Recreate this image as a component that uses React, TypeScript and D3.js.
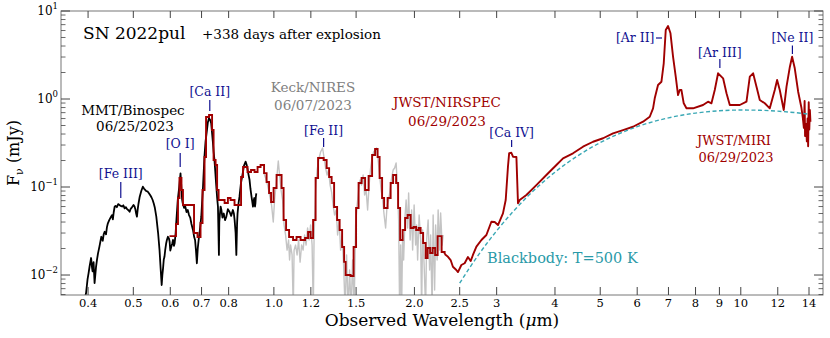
import React from "react";
import * as d3 from "d3";

// ---- data (wavelength in μm, flux in mJy) ----
const mmtSpec: [number, number][] = [[0.392,0.005],[0.396,0.0062],[0.399,0.0090],[0.401,0.0105],[0.403,0.0125],[0.406,0.0156],[0.408,0.0120],[0.409,0.0110],[0.411,0.0140],[0.413,0.0081],[0.416,0.0124],[0.418,0.0150],[0.420,0.0175],[0.423,0.0210],[0.427,0.0272],[0.430,0.0245],[0.432,0.0290],[0.434,0.0310],[0.437,0.0290],[0.439,0.0350],[0.441,0.0387],[0.444,0.0420],[0.448,0.0460],[0.450,0.0480],[0.452,0.0430],[0.454,0.0520],[0.456,0.0597],[0.458,0.0610],[0.461,0.0590],[0.464,0.0640],[0.467,0.0625],[0.470,0.0610],[0.473,0.0600],[0.476,0.0620],[0.479,0.0573],[0.482,0.0590],[0.485,0.0560],[0.488,0.0545],[0.491,0.0524],[0.493,0.0560],[0.4955,0.0580],[0.498,0.0600],[0.5005,0.0625],[0.503,0.0600],[0.505,0.0560],[0.507,0.0500],[0.509,0.0460],[0.511,0.0560],[0.513,0.0650],[0.516,0.0776],[0.520,0.0900],[0.524,0.1008],[0.527,0.0960],[0.530,0.0930],[0.533,0.0900],[0.537,0.0885],[0.540,0.0850],[0.544,0.0800],[0.547,0.0760],[0.550,0.0712],[0.553,0.0650],[0.556,0.0580],[0.560,0.0460],[0.565,0.0300],[0.569,0.0192],[0.572,0.0120],[0.575,0.0077],[0.577,0.0100],[0.579,0.0120],[0.581,0.0150],[0.583,0.0161],[0.585,0.0190],[0.588,0.0230],[0.590,0.0250],[0.593,0.0272],[0.596,0.0260],[0.598,0.0240],[0.600,0.0190],[0.603,0.0210],[0.606,0.0230],[0.608,0.0250],[0.611,0.0215],[0.613,0.0229],[0.616,0.0300],[0.618,0.0400],[0.6225,0.0712],[0.627,0.1000],[0.631,0.143],[0.634,0.0950],[0.636,0.0720],[0.638,0.0653],[0.642,0.0580],[0.646,0.0600],[0.650,0.0520],[0.654,0.0548],[0.658,0.0480],[0.662,0.0450],[0.666,0.0380],[0.671,0.0325],[0.675,0.0270],[0.678,0.0250],[0.681,0.0190],[0.684,0.0136],[0.687,0.0200],[0.690,0.0250],[0.694,0.0320],[0.699,0.0460],[0.705,0.1000],[0.710,0.221],[0.714,0.330],[0.718,0.420],[0.722,0.540],[0.726,0.604],[0.730,0.580],[0.734,0.530],[0.737,0.420],[0.740,0.330],[0.743,0.250],[0.746,0.203],[0.749,0.150],[0.752,0.110],[0.756,0.0750],[0.759,0.0597],[0.7626,0.0169],[0.764,0.0400],[0.766,0.0480],[0.769,0.0600],[0.772,0.0548],[0.776,0.0450],[0.781,0.0500],[0.786,0.0420],[0.791,0.0460],[0.797,0.0560],[0.804,0.0520],[0.810,0.0470],[0.817,0.0548],[0.821,0.0500],[0.824,0.0420],[0.828,0.0300],[0.831,0.0169],[0.834,0.0380],[0.836,0.0500],[0.840,0.0650],[0.844,0.0776],[0.850,0.1100],[0.857,0.140],[0.863,0.175],[0.870,0.194],[0.874,0.180],[0.878,0.160],[0.882,0.140],[0.887,0.120],[0.891,0.095],[0.895,0.080],[0.899,0.068],[0.902,0.0597],[0.905,0.0700],[0.908,0.0750],[0.911,0.0600],[0.913,0.0650],[0.915,0.0780],[0.917,0.0848]];

const niresSpec: [number, number][] = [[0.9504,0.1481],[0.9599,0.1266],[0.9694,0.1054],[0.9790,0.0811],[0.9887,0.0624],[0.9970,0.0400],[1.0035,0.0712],[1.0134,0.1201],[1.0220,0.1975],[1.0285,0.1369],[1.0362,0.0924],[1.0439,0.0712],[1.0516,0.0370],[1.0594,0.0285],[1.0673,0.0192],[1.0752,0.0250],[1.0805,0.0148],[1.0859,0.0219],[1.0939,0.0169],[1.1004,0.004],[1.1048,0.0192],[1.1130,0.0219],[1.1213,0.0169],[1.1296,0.0250],[1.1380,0.0140],[1.1465,0.0219],[1.1550,0.0192],[1.1636,0.0285],[1.1722,0.0219],[1.1809,0.0342],[1.1897,0.0250],[1.1985,0.0370],[1.2074,0.0219],[1.2146,0.004],[1.2194,0.0285],[1.2285,0.0924],[1.2376,0.1560],[1.2468,0.2026],[1.2591,0.2498],[1.2716,0.2774],[1.2810,0.2136],[1.2905,0.1644],[1.3001,0.1369],[1.3098,0.1560],[1.3195,0.1054],[1.3293,0.0877],[1.3392,0.0624],[1.3491,0.0481],[1.3592,0.0548],[1.3693,0.0285],[1.3794,0.0422],[1.3897,0.0192],[1.4000,0.0285],[1.4104,0.0130],[1.4209,0.004],[1.4314,0.0169],[1.4421,0.004],[1.4528,0.0114],[1.4636,0.004],[1.4744,0.0148],[1.4854,0.004],[1.4964,0.0370],[1.5076,0.0624],[1.5188,0.0924],[1.5300,0.1201],[1.5414,0.1054],[1.5528,0.1369],[1.5644,0.0811],[1.5760,0.0924],[1.5877,0.0548],[1.5995,0.1054],[1.6113,0.1644],[1.6233,0.2136],[1.6354,0.2498],[1.6475,0.2633],[1.6598,0.2774],[1.6721,0.2026],[1.6845,0.1369],[1.6970,0.0924],[1.7096,0.0712],[1.7223,0.0481],[1.7351,0.0342],[1.7480,0.0624],[1.7610,0.0712],[1.7740,0.0924],[1.7872,0.1266],[1.8005,0.1560],[1.8139,0.1644],[1.8273,0.1874],[1.8409,0.0924],[1.8500,0.0422],[1.8591,0.004],[1.8683,0.0219],[1.8776,0.004],[1.8869,0.0285],[1.8962,0.0148],[1.9103,0.0481],[1.9197,0.0712],[1.9340,0.0342],[1.9436,0.0855],[1.9580,0.0250],[1.9725,0.0548],[1.9823,0.0192],[1.9970,0.0624],[2.0118,0.0219],[2.0217,0.0370],[2.0318,0.0148],[2.0469,0.0481],[2.0621,0.0250],[2.0723,0.004],[2.0826,0.0325],[2.0980,0.0130],[2.1136,0.004],[2.1240,0.0250],[2.1398,0.0422],[2.1557,0.0114],[2.1664,0.0285],[2.1825,0.004],[2.1933,0.0481],[2.2095,0.00675],[2.2205,0.0370],[2.2370,0.0148],[2.2480,0.0548],[2.2647,0.0192],[2.2759,0.0506],[2.2928,0.0219],[2.3042,0.0285]];

// binned NIRSPEC (drawn as steps)
const nirspecBinned: [number, number][] = [[0.5976,0.0277],[0.6171,0.0380],[0.6232,0.0750],[0.6278,0.1266],[0.6340,0.0925],[0.6387,0.0624],[0.6745,0.0300],[0.6862,0.0270],[0.6965,0.0390],[0.7034,0.0925],[0.7104,0.219],[0.7157,0.624],[0.7264,0.658],[0.7373,0.444],[0.7428,0.203],[0.7502,0.178],[0.7558,0.0925],[0.7614,0.0711],[0.7843,0.0658],[0.7971,0.0750],[0.8077,0.0711],[0.8236,0.0624],[0.8506,0.130],[0.8590,0.169],[0.8781,0.148],[0.8935,0.156],[0.9091,0.148],[0.9227,0.169],[0.9365,0.178],[0.9528,0.144],[0.9647,0.114],[0.9766,0.0855],[0.9863,0.0675],[0.9986,0.0974],[1.0134,0.137],[1.0387,0.0974],[1.0491,0.0422],[1.0620,0.0325],[1.0779,0.0270],[1.0993,0.0250],[1.1183,0.0270],[1.1406,0.0250],[1.1663,0.0263],[1.1838,0.0308],[1.1985,0.0263],[1.2134,0.0422],[1.2285,0.1266],[1.2436,0.2135],[1.2781,0.203],[1.2971,0.164],[1.3132,0.130],[1.3295,0.111],[1.3459,0.0593],[1.3659,0.0422],[1.3830,0.0325],[1.4001,0.0208],[1.4140,0.0141],[1.4245,0.0100],[1.4600,0.00975],[1.4817,0.0208],[1.4999,0.0577],[1.5186,0.111],[1.5412,0.1266],[1.5681,0.0925],[1.5954,0.1334],[1.6232,0.231],[1.6473,0.270],[1.6678,0.219],[1.6844,0.1266],[1.7053,0.075],[1.7222,0.0577],[1.7522,0.075],[1.7786,0.111],[1.8004,0.137],[1.8273,0.111],[1.8454,0.0577],[1.8638,0.025],[1.8870,0.0325],[1.9104,0.0444],[1.9341,0.0481],[1.9629,0.0342],[1.9920,0.0351],[2.0168,0.0325],[2.0420,0.0342],[2.0620,0.0300],[2.0877,0.0231],[2.1138,0.0156],[2.1346,0.0203],[2.1610,0.0178],[2.1878,0.0203],[2.2151,0.0169],[2.2428,0.0277],[2.2871,0.0183],[2.3214,0.0173]];

// NIRSPEC (>2.3 μm) + MIRI
const jwstSpec: [number, number][] = [[2.321,0.0173],[2.360,0.0161],[2.391,0.0148],[2.418,0.0124],[2.459,0.0114],[2.479,0.0108],[2.521,0.0130],[2.562,0.0136],[2.604,0.0160],[2.639,0.0144],[2.669,0.0169],[2.715,0.0210],[2.783,0.0250],[2.852,0.0285],[2.923,0.0403],[2.971,0.0400],[3.020,0.0370],[3.095,0.0502],[3.137,0.0711],[3.172,0.170],[3.191,0.243],[3.226,0.245],[3.252,0.221],[3.307,0.219],[3.333,0.0653],[3.361,0.0711],[3.474,0.0811],[3.649,0.105],[3.834,0.137],[4.028,0.178],[4.162,0.212],[4.372,0.2415],[4.593,0.287],[4.826,0.327],[5.070,0.358],[5.326,0.4075],[5.596,0.444],[5.877,0.484],[6.175,0.552],[6.383,0.629],[6.488,0.784],[6.542,1.018],[6.649,1.443],[6.762,1.573],[6.839,2.545],[6.907,6.08],[6.986,6.754],[7.070,5.58],[7.160,3.025],[7.256,1.792],[7.339,1.11],[7.400,1.266],[7.462,1.266],[7.548,0.894],[7.650,0.784],[7.902,0.784],[8.301,0.855],[8.509,0.932],[8.653,0.894],[8.796,1.266],[8.941,1.959],[9.165,1.719],[9.320,1.161],[9.472,0.855],[9.951,0.855],[10.285,0.932],[10.455,1.792],[10.627,1.959],[10.806,1.380],[10.982,0.974],[11.257,0.894],[11.537,0.784],[11.825,1.266],[11.962,1.644],[12.12,1.266],[12.36,0.750],[12.53,1.380],[12.74,2.328],[12.88,3.025],[13.05,2.233],[13.27,1.21],[13.49,0.79],[13.58,0.61],[13.65,0.47],[13.70,0.95],[13.73,0.38],[13.80,0.52],[13.85,0.33],[13.90,0.60],[13.94,0.29],[13.98,0.92],[14.02,0.45],[14.06,0.75],[14.10,0.55]];

// blackbody T=500 K
const bbWave = [2.5, 2.625, 2.75, 3.0, 3.25, 3.5, 3.75, 4, 4.5, 5, 6, 7, 8, 9, 10, 11, 12, 13, 14];
const bbFlux = [0.00807, 0.01206, 0.01727, 0.03178, 0.0523, 0.0788, 0.1108, 0.1476, 0.2307, 0.3193, 0.4849, 0.6107, 0.6918, 0.7348, 0.7494, 0.7447, 0.7274, 0.7021, 0.6726];

const xTicks = [0.4, 0.5, 0.6, 0.7, 0.8, 1.0, 1.2, 1.5, 2.0, 2.5, 3, 4, 5, 6, 7, 8, 9, 10, 12, 14];
const xTickLabels = ["0.4", "0.5", "0.6", "0.7", "0.8", "1.0", "1.2", "1.5", "2.0", "2.5", "3", "4", "5", "6", "7", "8", "9", "10", "12", "14"];
const yMajorExp = [-2, -1, 0, 1];

const lineIds = [
  { name: "[Fe III]", wave: 0.47, textY: 178, y1: 182, y2: 198 },
  { name: "[O I]", wave: 0.63, textY: 148, y1: 153, y2: 167 },
  { name: "[Ca II]", wave: 0.729, textY: 96, y1: 100, y2: 111 },
  { name: "[Fe II]", wave: 1.278, textY: 135, y1: 138, y2: 147 },
  { name: "[Ca IV]", wave: 3.23, textY: 136.5, y1: 140, y2: 147 },
  { name: "[Ar III]", wave: 9.02, textY: 56.5, y1: 59, y2: 68 },
  { name: "[Ne II]", wave: 12.9, textY: 41.5, y1: 45.5, y2: 54 },
];

const W = 830, H = 338;
const L = 61, R = 823, T = 11, B = 295;
const FONT = "'DejaVu Serif', serif";
const RED = "#a00000";
const BLUE = "#101090";
const TEAL = "#3aa8b5";

export default function App() {
  const x = d3.scaleLog().domain([0.35, 15]).range([L, R]);
  const y = d3.scaleLog().domain([Math.pow(10, -2.227), 10]).range([B, T]);

  const line = d3.line<[number, number]>().x(d => x(d[0])).y(d => y(d[1]));
  const step = d3.line<[number, number]>().x(d => x(d[0])).y(d => y(d[1])).curve(d3.curveStepAfter);
  const bbLine = d3.line<number>().x((_, i) => x(bbWave[i])).y(d => y(d)).curve(d3.curveMonotoneX);

  const minorY: number[] = [];
  for (let e = -3; e <= 0; e++) for (let m = 2; m <= 9; m++) {
    const v = m * Math.pow(10, e);
    if (v > y.domain()[0] && v < 10) minorY.push(v);
  }
  const tickColor = "#444";

  return (
    <svg width={W} height={H} style={{ position: "absolute", left: 0, top: 0, background: "#fff" }} fontFamily={FONT}>
      <defs>
        <clipPath id="plotclip"><rect x={L} y={T} width={R - L} height={B - T} /></clipPath>
      </defs>
      <g clipPath="url(#plotclip)">
        <path d={line(niresSpec) || ""} fill="none" stroke="#c4c4c4" strokeWidth={1.4} strokeLinejoin="round" />
        <path d={line(mmtSpec) || ""} fill="none" stroke="#000" strokeWidth={1.8} strokeLinejoin="round" />
        <path d={step(nirspecBinned) || ""} fill="none" stroke={RED} strokeWidth={1.9} />
        <path d={line(jwstSpec) || ""} fill="none" stroke={RED} strokeWidth={1.9} strokeLinejoin="round" />
        <path d={bbLine(bbFlux) || ""} fill="none" stroke={TEAL} strokeWidth={1.4} strokeDasharray="4,2.5" />
      </g>

      {/* frame */}
      <rect x={L} y={T} width={R - L} height={B - T} fill="none" stroke="#777" strokeWidth={1} />

      {/* x ticks */}
      {xTicks.map((t, i) => (
        <g key={"xt" + i}>
          <line x1={x(t)} x2={x(t)} y1={B} y2={B - 8} stroke={tickColor} strokeWidth={1} />
          <line x1={x(t)} x2={x(t)} y1={T} y2={T + 7} stroke={tickColor} strokeWidth={1} />
          <text x={x(t)} y={B + 12} textAnchor="middle" fontSize={11.5} fill="#000">{xTickLabels[i]}</text>
        </g>
      ))}
      {/* y ticks */}
      {yMajorExp.map(e => {
        const v = Math.pow(10, e);
        return (
          <g key={"ym" + e}>
            <line x1={L} x2={L + 9} y1={y(v)} y2={y(v)} stroke={tickColor} strokeWidth={1} />
            <line x1={R} x2={R - 9} y1={y(v)} y2={y(v)} stroke={tickColor} strokeWidth={1} />
            <text x={L - 3} y={y(v) + 4} textAnchor="end" fontSize={12} fill="#000">
              10<tspan fontSize={8.5} dy={-6}>{e < 0 ? "\u2212" + Math.abs(e) : String(e)}</tspan>
            </text>
          </g>
        );
      })}
      {minorY.map((v, i) => (
        <g key={"yn" + i}>
          <line x1={L} x2={L + 4.5} y1={y(v)} y2={y(v)} stroke={tickColor} strokeWidth={0.8} />
          <line x1={R} x2={R - 4.5} y1={y(v)} y2={y(v)} stroke={tickColor} strokeWidth={0.8} />
        </g>
      ))}

      {/* axis labels */}
      <text x={(L + R) / 2} y={326} textAnchor="middle" fontSize={17} fill="#000">
        Observed Wavelength (<tspan fontStyle="italic">μ</tspan>m)
      </text>
      <text transform={`translate(19,${(T + B) / 2}) rotate(-90)`} textAnchor="middle" fontSize={16} fill="#000">
        F<tspan fontSize={11} dy={4}>ν</tspan><tspan dy={-4}> (mJy)</tspan>
      </text>

      {/* titles */}
      <text x={83} y={38.5} fontSize={17} fill="#000">SN 2022pul</text>
      <text x={202} y={38.5} fontSize={13.5} fill="#000">+338 days after explosion</text>

      {/* instrument labels */}
      <text x={133} y={115} textAnchor="middle" fontSize={13.5} fill="#000">MMT/Binospec</text>
      <text x={135} y={131} textAnchor="middle" fontSize={13.5} fill="#000">06/25/2023</text>
      <text x={313} y={91.5} textAnchor="middle" fontSize={13.5} fill="#808080">Keck/NIRES</text>
      <text x={313} y={110} textAnchor="middle" fontSize={13.5} fill="#808080">06/07/2023</text>
      <text x={447} y={107} textAnchor="middle" fontSize={13.5} fill={RED}>JWST/NIRSPEC</text>
      <text x={447} y={125.5} textAnchor="middle" fontSize={13.5} fill={RED}>06/29/2023</text>
      <text x={734} y={145} textAnchor="middle" fontSize={13} fill={RED}>JWST/MIRI</text>
      <text x={736} y={161.5} textAnchor="middle" fontSize={13} fill={RED}>06/29/2023</text>
      <text x={487} y={262.5} fontSize={14.5} fill="#2a9aa8">Blackbody: T=500 K</text>

      {/* line identifications */}
      {lineIds.map(l => (
        <g key={l.name}>
          <text x={x(l.wave)} y={l.textY} textAnchor="middle" fontSize={12.5} fill={BLUE}>{l.name}</text>
          <line x1={x(l.wave)} x2={x(l.wave)} y1={l.y1} y2={l.y2} stroke={BLUE} strokeWidth={1.2} />
        </g>
      ))}
      <text x={654.5} y={41.5} textAnchor="end" fontSize={12.5} fill={BLUE}>[Ar II]</text>
      <line x1={656} x2={662} y1={38} y2={38} stroke={BLUE} strokeWidth={1.2} />
    </svg>
  );
}
